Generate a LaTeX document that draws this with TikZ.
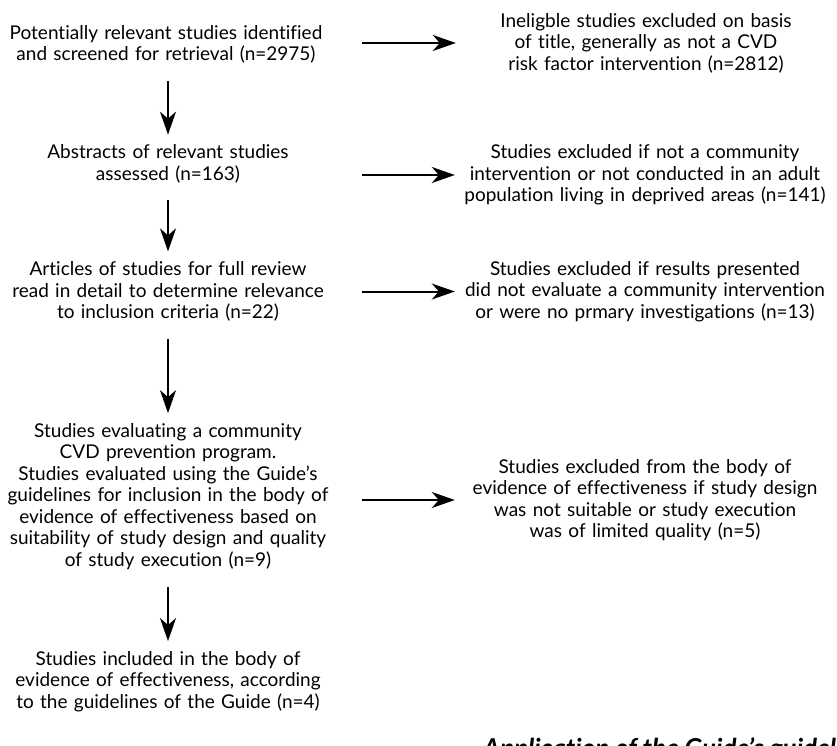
\documentclass[tikz,border=0pt]{standalone}
\usepackage{fontspec}
\setmainfont{Lato}[Ligatures=CommonOff]
\usetikzlibrary{arrows.meta}
\begin{document}
\begin{tikzpicture}[x=1pt,y=1pt,
  txt/.style={inner sep=0pt, align=center, font=\fontsize{19}{21.5}\selectfont},
  lbox/.style={txt, text width=340pt},
  rbox/.style={txt, text width=400pt},
  arr/.style={line width=2pt, -{Stealth[length=23pt,width=16pt,inset=7pt]}},
  varr/.style={arr, shorten <=17pt, shorten >=10pt},
  harr/.style={arr, shorten <=24pt, shorten >=-10pt}]
\useasboundingbox (0,0) rectangle (837,-746);
\clip (0,0) rectangle (837,-746);
\node[lbox] (l1) at (166,-44.5) {Potentially relevant studies identified\\and screened for retrieval (n=2975)};
\node[lbox] (l2) at (168,-164) {Abstracts of relevant studies\\assessed (n=163)};
\node[lbox] (l3) at (168,-291.5) {Articles of studies for full review\\read in detail to determine relevance\\to inclusion criteria (n=22)};
\node[lbox] (l4) at (168,-496.5) {Studies evaluating a community\\CVD prevention program.\\Studies evaluated using the Guide's\\guidelines for inclusion in the body of\\evidence of effectiveness based on\\suitability of study design and quality\\of study execution (n=9)};
\node[lbox] (l5) at (168,-681.5) {Studies included in the body of\\evidence of effectiveness, according\\to the guidelines of the Guide (n=4)};
\node[rbox] (r1) at (646,-43) {Ineligble studies excluded on basis\\of title, generally as not a CVD\\risk factor intervention (n=2812)};
\node[rbox] (r2) at (645,-175) {Studies excluded if not a community\\intervention or not conducted in an adult\\population living in deprived areas (n=141)};
\node[rbox] (r3) at (645,-291.5) {Studies excluded if results presented\\did not evaluate a community intervention\\or were no prmary investigations (n=13)};
\node[rbox] (r4) at (645,-500) {Studies excluded from the body of\\evidence of effectiveness if study design\\was not suitable or study execution\\was of limited quality (n=5)};
\node[anchor=base west, inner sep=0pt, font=\fontsize{26}{30}\selectfont\bfseries\itshape] (cap) at (483,-757) {Application of the Guide's guidelines};
% vertical arrows
\draw[varr] (l2.north |- l1.south) -- (l2.north);
\draw[varr] (l2.south) -- (l3.north);
\draw[varr] (l3.south) -- (l4.north);
\draw[varr] (l4.south) -- (l5.north);
% horizontal arrows
\draw[harr, shorten <=26pt] (r1.west -| l1.east) -- (r1.west);
\draw[harr] (r2.west -| l2.east) -- (r2.west);
\draw[harr] (r3.west -| l3.east) -- (r3.west);
\draw[harr] (r4.west -| l4.east) -- (r4.west);
\end{tikzpicture}
\end{document}
